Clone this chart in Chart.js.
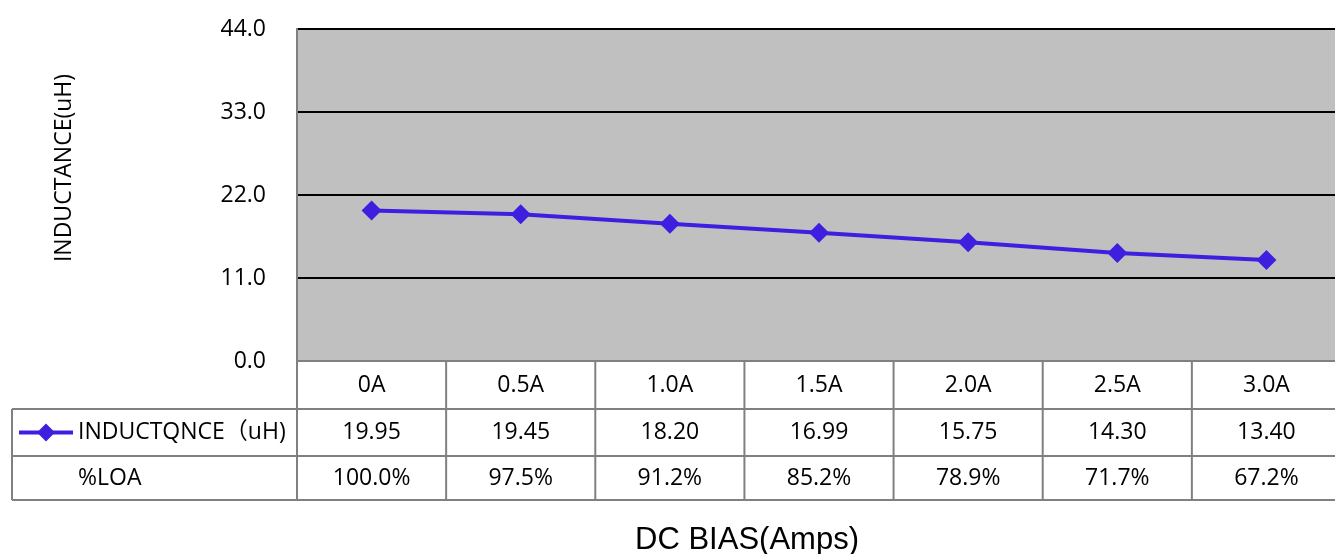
<!DOCTYPE html>
<html>
<head>
<meta charset="utf-8">
<script src="https://cdn.jsdelivr.net/npm/chart.js@4.4.1/dist/chart.umd.min.js"></script>
<style>
  body { margin: 0; background: #fff; overflow: hidden; }
  #wrap { width: 1335px; height: 554px; overflow: hidden; }
</style>
</head>
<body>
<div id="wrap"><canvas id="dcChart" width="1341" height="554"></canvas></div>
<script>
// chart data
const biasLabels = ["0A", "0.5A", "1.0A", "1.5A", "2.0A", "2.5A", "3.0A"];
const inductance = [19.95, 19.45, 18.2, 16.99, 15.75, 14.3, 13.4];
const loaPercent = [100.0, 97.5, 91.2, 85.2, 78.9, 71.7, 67.2];
const seriesName = "INDUCTQNCE\uFF08uH)";
const loaName = "%LOA";
const yMin = 0;
const yMax = 44;
const yStep = 11;

const lineColor = "#3F1FDF";
const tableLine = "#808080";
const fontName = "'Open Sans', 'Noto Sans CJK SC', sans-serif";

// gray plot background
const plotBg = {
  id: "plotBg",
  beforeDraw(chart) {
    const a = chart.chartArea;
    const ctx = chart.ctx;
    ctx.save();
    ctx.fillStyle = "#C0C0C0";
    ctx.fillRect(a.left, a.top, a.right - a.left, a.bottom - a.top);
    ctx.restore();
  },
};

// data table under the plot + axis titles
const dataTable = {
  id: "dataTable",
  afterDraw(chart) {
    const ctx = chart.ctx;
    const x = chart.scales.x;
    const a = chart.chartArea;
    const half = (x.getPixelForValue(1) - x.getPixelForValue(0)) / 2;
    const top = a.bottom;
    const r1 = top + 48;
    const r2 = r1 + 47;
    const r3 = r2 + 44;
    const tableLeft = 12;

    ctx.save();
    ctx.strokeStyle = tableLine;
    ctx.lineWidth = 2;
    ctx.beginPath();
    // horizontal lines
    ctx.moveTo(tableLeft, r1); ctx.lineTo(a.right, r1);
    ctx.moveTo(tableLeft, r2); ctx.lineTo(a.right, r2);
    ctx.moveTo(tableLeft, r3); ctx.lineTo(a.right, r3);
    ctx.moveTo(a.left, top); ctx.lineTo(a.right, top);
    // vertical lines
    ctx.moveTo(tableLeft, r1); ctx.lineTo(tableLeft, r3);
    for (let i = 0; i < biasLabels.length; i++) {
      const bx = x.getPixelForValue(i) - half;
      ctx.moveTo(bx, top); ctx.lineTo(bx, r3);
    }
    ctx.stroke();

    ctx.fillStyle = "#000";
    ctx.font = "23px " + fontName;
    ctx.textAlign = "center";
    ctx.textBaseline = "middle";
    for (let i = 0; i < biasLabels.length; i++) {
      const cx = x.getPixelForValue(i);
      ctx.fillText(biasLabels[i], cx, (top + r1) / 2);
      ctx.fillText(inductance[i].toFixed(2), cx, (r1 + r2) / 2);
      ctx.fillText(loaPercent[i].toFixed(1) + "%", cx, (r2 + r3) / 2);
    }

    // legend key
    const ly = (r1 + r2) / 2;
    ctx.strokeStyle = lineColor;
    ctx.lineWidth = 4;
    ctx.beginPath();
    ctx.moveTo(19, ly); ctx.lineTo(73, ly);
    ctx.stroke();
    ctx.fillStyle = lineColor;
    ctx.beginPath();
    ctx.moveTo(46, ly - 9); ctx.lineTo(55, ly); ctx.lineTo(46, ly + 9); ctx.lineTo(37, ly);
    ctx.closePath();
    ctx.fill();

    ctx.fillStyle = "#000";
    ctx.textAlign = "left";
    ctx.fillText(seriesName, 78, ly);
    ctx.fillText(loaName, 78, (r2 + r3) / 2);

    // y title
    ctx.save();
    ctx.translate(64, 168);
    ctx.rotate(-Math.PI / 2);
    ctx.textAlign = "center";
    ctx.font = "23px " + fontName;
    ctx.fillText("INDUCTANCE(uH)", 0, 0);
    ctx.restore();

    // x title
    ctx.textAlign = "center";
    ctx.font = "31px 'Liberation Sans', Arial, sans-serif";
    ctx.fillText("DC BIAS(Amps)", 747, 540);
    ctx.restore();
  },
};

new Chart(document.getElementById("dcChart"), {
  type: "line",
  data: {
    labels: biasLabels,
    datasets: [
      {
        label: seriesName,
        data: inductance,
        borderColor: lineColor,
        backgroundColor: lineColor,
        borderWidth: 4,
        pointStyle: "rectRot",
        pointRadius: 10,
        pointHoverRadius: 10,
        pointBorderWidth: 0,
        tension: 0,
      },
    ],
  },
  options: {
    responsive: false,
    animation: false,
    devicePixelRatio: 1,
    layout: { autoPadding: false, padding: { top: 29, left: 0, right: 0, bottom: 0 } },
    plugins: {
      legend: { display: false },
      tooltip: { enabled: false },
    },
    scales: {
      x: {
        offset: true,
        grid: { display: false },
        border: { display: false },
        ticks: { display: false },
        afterFit(scale) {
          scale.height = 193;
          scale.paddingLeft = 0;
          scale.paddingRight = 0;
        },
      },
      y: {
        min: yMin,
        max: yMax,
        ticks: {
          stepSize: yStep,
          padding: 31,
          color: "#000",
          font: { family: fontName, size: 23 },
          callback: (v) => v.toFixed(1),
        },
        grid: {
          drawTicks: false,
          color: (c) => (c.tick && c.tick.value === 0 ? tableLine : "#000"),
          lineWidth: 2,
        },
        border: { color: tableLine, width: 2 },
        afterFit(scale) {
          scale.width = 297;
          scale.paddingTop = 0;
          scale.paddingBottom = 0;
        },
      },
    },
  },
  plugins: [plotBg, dataTable],
});
</script>
</body>
</html>
